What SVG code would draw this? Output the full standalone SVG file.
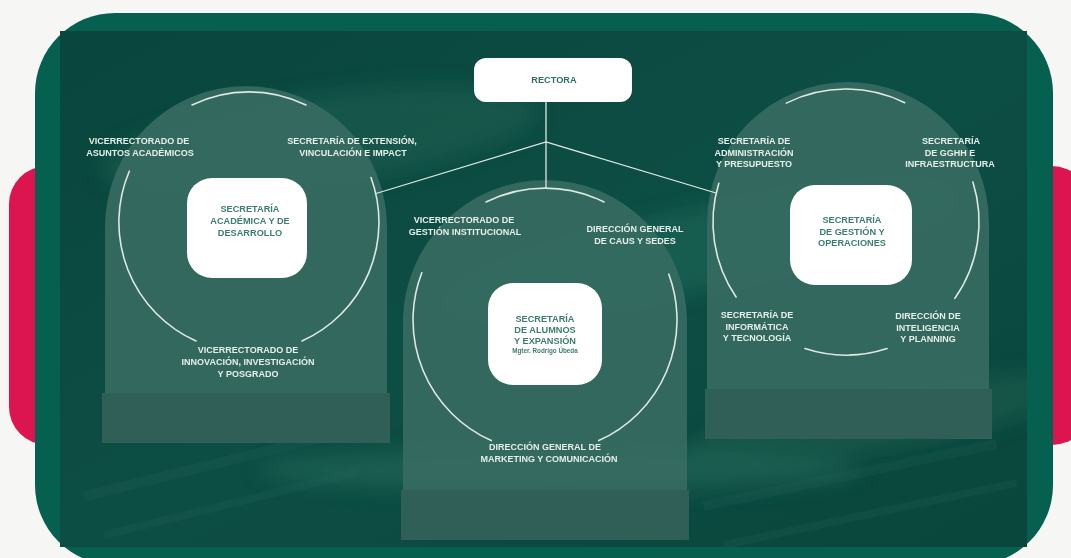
<svg xmlns="http://www.w3.org/2000/svg" width="1071" height="558" viewBox="0 0 1071 558">
<defs>
<style>
.lbl{font-family:"Liberation Sans",Arial,sans-serif;font-weight:bold;font-size:9px;fill:#e6eeea;text-anchor:middle}
.nt{font-family:"Liberation Sans",Arial,sans-serif;font-weight:bold;font-size:9.2px;fill:#3d7d73;text-anchor:middle}
.sm{font-size:6.3px}
.node{fill:#ffffff}
.arch{fill:#386c62;fill-opacity:0.88}
.base{fill:#2f5f56}
.ring{fill:none;stroke:#dfe7e3;stroke-width:1.6;stroke-linecap:round}
.conn{fill:none;stroke:#dfe7e3;stroke-width:1.3}
.streak{fill:#2a6b5d;opacity:0.18}
</style>
<linearGradient id="innerGrad" x1="0" y1="0" x2="1" y2="1">
<stop offset="0" stop-color="#09463d"/>
<stop offset="0.5" stop-color="#0d4e44"/>
<stop offset="1" stop-color="#09463c"/>
</linearGradient>
<filter id="blur" x="-20%" y="-20%" width="140%" height="140%"><feGaussianBlur stdDeviation="10"/></filter>
<clipPath id="innerClip"><rect x="60" y="31" width="967" height="516"/></clipPath>
</defs>

<rect x="0" y="0" width="1071" height="558" fill="#f6f6f4"/>
<rect x="9" y="166" width="140" height="279" rx="38" fill="#dc1450"/>
<rect x="930" y="166" width="160" height="279" rx="38" fill="#dc1450"/>
<rect x="35" y="13" width="1018" height="552" rx="80" fill="#056050"/>
<rect x="60" y="31" width="967" height="516" fill="url(#innerGrad)"/>

<g clip-path="url(#innerClip)">
<g filter="url(#blur)">
<ellipse cx="320" cy="140" rx="220" ry="45" fill="#1f6657" opacity="0.45" transform="rotate(-8 320 140)"/>
<ellipse cx="700" cy="250" rx="260" ry="40" fill="#2b7564" opacity="0.4" transform="rotate(-12 700 250)"/>
<ellipse cx="560" cy="470" rx="300" ry="22" fill="#2f7866" opacity="0.4"/>
<ellipse cx="880" cy="420" rx="200" ry="30" fill="#1e6454" opacity="0.45" transform="rotate(-10 880 420)"/>
</g>
<rect class="streak" x="80" y="460" width="260" height="10" transform="rotate(-14 210 465)"/>
<rect class="streak" x="100" y="500" width="260" height="8" transform="rotate(-14 230 504)"/>
<rect class="streak" x="700" y="470" width="300" height="10" transform="rotate(-12 850 475)"/>
<rect class="streak" x="720" y="510" width="300" height="8" transform="rotate(-12 870 514)"/>
</g>

<g id="arch-left">
<path class="arch" d="M105,393 V227 A141,141 0 0 1 387,227 V393 Z"/>
<rect class="base" x="102" y="393" width="288" height="50"/>
</g>
<g id="arch-middle">
<path class="arch" d="M403,490 V322 A142,142 0 0 1 687,322 V490 Z"/>
<rect class="base" x="401" y="490" width="288" height="50"/>
</g>
<g id="arch-right">
<path class="arch" d="M707,389 V223 A141,141 0 0 1 989,223 V389 Z"/>
<rect class="base" x="705" y="389" width="287" height="50"/>
</g>

<g id="rings">
<path class="ring" d="M192,105 A130,130 0 0 1 306,105"/>
<path class="ring" d="M371,177.5 A130,130 0 0 1 302,341"/>
<path class="ring" d="M196,341 A130,130 0 0 1 129.3,171.2"/>
<path class="ring" d="M486,202 A132,132 0 0 1 604,202"/>
<path class="ring" d="M668.8,274.2 A132,132 0 0 1 598.7,440.6"/>
<path class="ring" d="M491.3,440.6 A132,132 0 0 1 421.8,272.7"/>
<path class="ring" d="M786.4,103.1 A133,133 0 0 1 904.7,102.7"/>
<path class="ring" d="M972.9,182 A133,133 0 0 1 954.9,298.3"/>
<path class="ring" d="M887.1,348.5 A133,133 0 0 1 804.9,348.5"/>
<path class="ring" d="M736.1,297 A133,133 0 0 1 718.8,183.2"/>
</g>

<g id="connectors">
<line class="conn" x1="546" y1="102" x2="546" y2="188"/>
<polyline class="conn" points="376,193.5 546,142 716,193"/>
</g>

<g id="rectora">
<rect class="node" x="474" y="58" width="158" height="44" rx="12"/>
<text class="nt" x="554" y="83" style="fill:#2f6f66">RECTORA</text>
</g>

<g id="sec-academica">
<rect class="node" x="187" y="178" width="120" height="100" rx="25"/>
<text class="nt" x="250" y="212">SECRETARÍA</text>
<text class="nt" x="250" y="224">ACADÉMICA Y DE</text>
<text class="nt" x="250" y="235.5">DESARROLLO</text>
</g>
<g id="vr-asuntos">
<text class="lbl" x="139" y="144">VICERRECTORADO DE</text>
<text class="lbl" x="140" y="156">ASUNTOS ACADÉMICOS</text>
</g>
<g id="sec-extension">
<text class="lbl" x="352" y="144">SECRETARÍA DE EXTENSIÓN,</text>
<text class="lbl" x="353" y="156">VINCULACIÓN E IMPACT</text>
</g>
<g id="vr-innovacion">
<text class="lbl" x="248" y="353">VICERRECTORADO DE</text>
<text class="lbl" x="248" y="365">INNOVACIÓN, INVESTIGACIÓN</text>
<text class="lbl" x="248" y="377">Y POSGRADO</text>
</g>

<g id="sec-alumnos">
<rect class="node" x="488" y="283" width="114" height="102" rx="25"/>
<text class="nt" x="545" y="322">SECRETARÍA</text>
<text class="nt" x="545" y="333">DE ALUMNOS</text>
<text class="nt" x="545" y="344">Y EXPANSIÓN</text>
<text class="nt sm" x="545" y="353">Mgter. Rodrigo Úbeda</text>
</g>
<g id="vr-gestion">
<text class="lbl" x="464" y="223">VICERRECTORADO DE</text>
<text class="lbl" x="465" y="235">GESTIÓN INSTITUCIONAL</text>
</g>
<g id="dg-caus">
<text class="lbl" x="635" y="232">DIRECCIÓN GENERAL</text>
<text class="lbl" x="635" y="243.5">DE CAUS Y SEDES</text>
</g>
<g id="dg-marketing">
<text class="lbl" x="545" y="450">DIRECCIÓN GENERAL  DE</text>
<text class="lbl" x="549" y="461.5">MARKETING  Y COMUNICACIÓN</text>
</g>

<g id="sec-gestion">
<rect class="node" x="790" y="185" width="122" height="100" rx="25"/>
<text class="nt" x="852" y="223">SECRETARÍA</text>
<text class="nt" x="852" y="235">DE GESTIÓN  Y</text>
<text class="nt" x="852" y="246">OPERACIONES</text>
</g>
<g id="sec-administracion">
<text class="lbl" x="754" y="144">SECRETARÍA  DE</text>
<text class="lbl" x="754" y="156">ADMINISTRACIÓN</text>
<text class="lbl" x="754" y="167">Y PRESUPUESTO</text>
</g>
<g id="sec-gghh">
<text class="lbl" x="951" y="144">SECRETARÍA</text>
<text class="lbl" x="950" y="156">DE GGHH  E</text>
<text class="lbl" x="950" y="167">INFRAESTRUCTURA</text>
</g>
<g id="sec-informatica">
<text class="lbl" x="757" y="318">SECRETARÍA  DE</text>
<text class="lbl" x="757" y="330">INFORMÁTICA</text>
<text class="lbl" x="757" y="341">Y TECNOLOGÍA</text>
</g>
<g id="dir-inteligencia">
<text class="lbl" x="928" y="319">DIRECCIÓN DE</text>
<text class="lbl" x="928" y="331">INTELIGENCIA</text>
<text class="lbl" x="928" y="342">Y PLANNING</text>
</g>
</svg>
